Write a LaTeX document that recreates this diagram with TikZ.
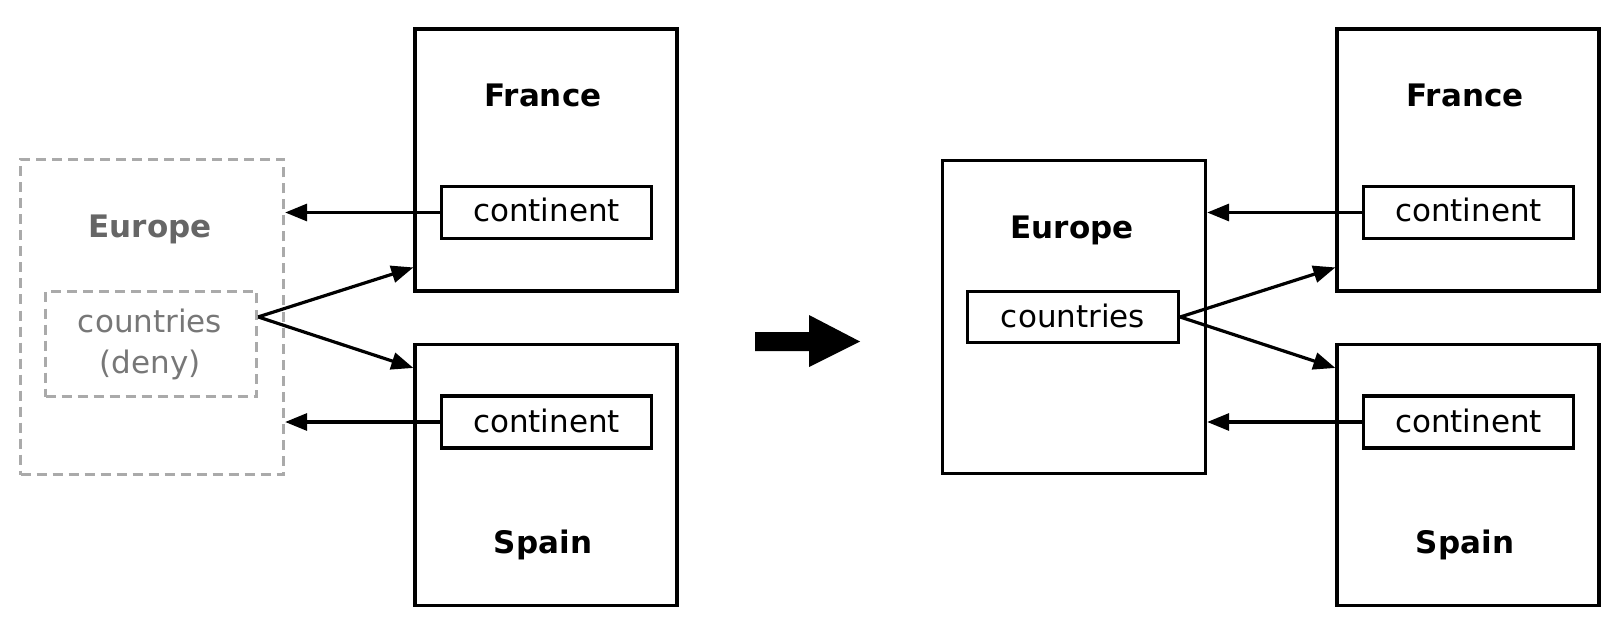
\documentclass[tikz,border=0pt]{standalone}
\usepackage{fontspec}
\setmainfont{DejaVu Sans}
\usetikzlibrary{arrows.meta,calc}
\definecolor{dashgray}{HTML}{AAAAAA}
\definecolor{titlegray}{HTML}{666666}
\definecolor{textgray}{HTML}{777777}
\begin{document}
\begin{tikzpicture}[x=1pt,y=-1pt,
  box/.style={draw=black,line width=3.3pt,rectangle,inner sep=0pt},
  dbox/.style={draw=dashgray,line width=3.3pt,rectangle,inner sep=0pt,dash pattern=on 10pt off 6pt},
  title/.style={font=\bfseries\fontsize{31}{36}\selectfont,anchor=base,inner sep=0pt},
  lbl/.style={font=\fontsize{31}{38}\selectfont,anchor=base,inner sep=0pt},
  conn/.style={line width=3.2pt,-{Triangle[length=22pt,width=17pt]}},
]
\useasboundingbox (0,0) rectangle (1622,644);

% ---------- left side ----------
\node[dbox,minimum width=263pt,minimum height=315pt] (EL) at (152,317) {};
\node[dbox,minimum width=211pt,minimum height=105pt] (cL) at (151,344) {};
\node[title,text=titlegray] (tEL) at (150,238) {Europe};
\node[lbl,text=textgray] (tcL1) at (150,332) {countries};
\node[lbl,text=textgray] (tcL2) at (150,373) {(deny)};

\node[box,minimum width=262pt,minimum height=262pt] (FL) at (546,160) {};
\node[title] (tFL) at (543,107) {France};
\node[box,minimum width=210pt,minimum height=52pt] (kFL) at (546.5,212.5) {};
\node[lbl] (tkFL) at (546.5,222) {continent};

\node[box,minimum width=262pt,minimum height=261pt] (SL) at (546,475) {};
\node[title] (tSL) at (543,553) {Spain};
\node[box,minimum width=210pt,minimum height=52pt] (kSL) at (546.5,422) {};
\node[lbl] (tkSL) at (546.5,432) {continent};

\coordinate (cLs) at ($(cL.north east)!0.25!(cL.south east)$);
\draw[conn] (kFL.west) -- (EL.east |- kFL.west);
\draw[conn] (kSL.west) -- (EL.east |- kSL.west);
\draw[conn] (cLs) -- ($(FL.north west)!0.905!(FL.south west)$);
\draw[conn] (cLs) -- ($(SL.north west)!0.095!(SL.south west)$);

% ---------- big arrow ----------
\fill (755,332) -- (809,332) -- (809,315) -- (860,341.5) -- (809,367) -- (809,351) -- (755,351) -- cycle;

% ---------- right side ----------
\node[box,minimum width=263pt,minimum height=313pt] (ER) at (1074,317) {};
\node[title] (tER) at (1072,239) {Europe};
\node[box,minimum width=211pt,minimum height=51pt] (cR) at (1073,317) {};
\node[lbl] (tcR) at (1073,327) {countries};

\node[box,minimum width=262pt,minimum height=262pt] (FR) at (1468,160) {};
\node[title] (tFR) at (1465,107) {France};
\node[box,minimum width=210pt,minimum height=52pt] (kFR) at (1468.5,212.5) {};
\node[lbl] (tkFR) at (1468.5,222) {continent};

\node[box,minimum width=262pt,minimum height=261pt] (SR) at (1468,475) {};
\node[title] (tSR) at (1465,553) {Spain};
\node[box,minimum width=210pt,minimum height=52pt] (kSR) at (1468.5,422) {};
\node[lbl] (tkSR) at (1468.5,432) {continent};

\draw[conn] (kFR.west) -- (ER.east |- kFR.west);
\draw[conn] (kSR.west) -- (ER.east |- kSR.west);
\draw[conn] (cR.east) -- ($(FR.north west)!0.905!(FR.south west)$);
\draw[conn] (cR.east) -- ($(SR.north west)!0.095!(SR.south west)$);
\end{tikzpicture}
\end{document}
